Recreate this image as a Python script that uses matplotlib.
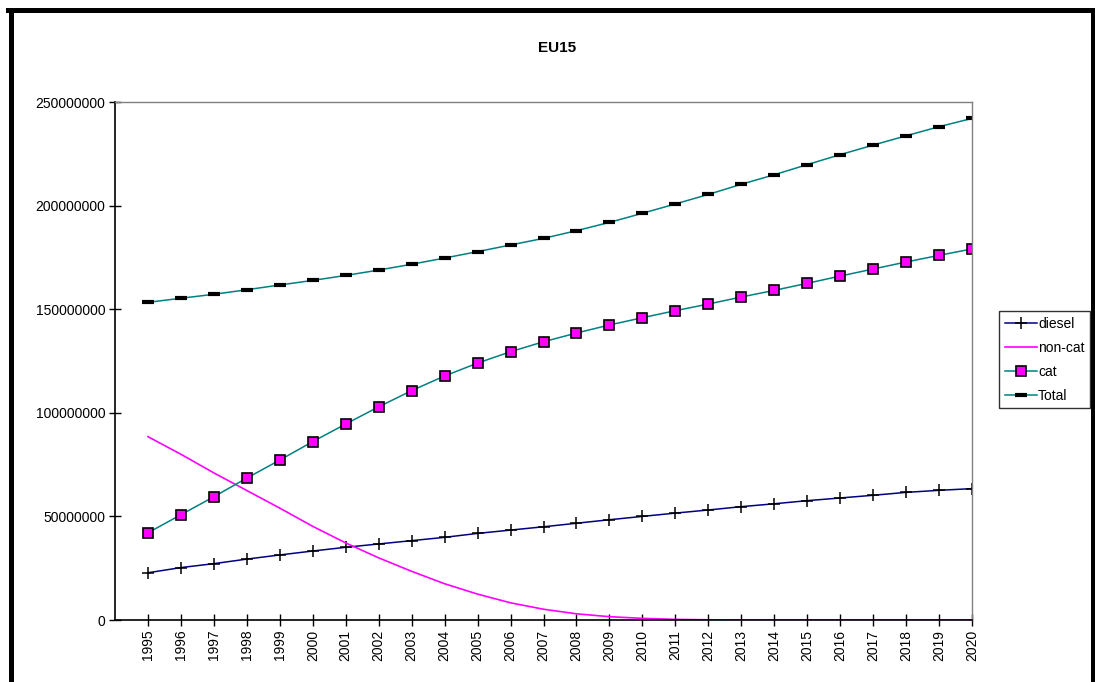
import numpy as np
import matplotlib.pyplot as plt
from matplotlib.lines import Line2D

plt.rcParams['font.family'] = ['Liberation Sans', 'DejaVu Sans']

years = [str(y) for y in range(1995, 2021)]

# vehicle counts per year
diesel = [22.8, 25.3, 27.2, 29.4, 31.4, 33.3, 35.1, 36.7, 38.3, 39.9,
          41.8, 43.4, 45.0, 46.7, 48.4, 50.0, 51.6, 53.1, 54.7, 56.1,
          57.6, 58.9, 60.2, 61.6, 62.6, 63.4]
non_cat = [88.5, 80.0, 71.0, 62.5, 54.0, 45.2, 37.2, 30.0, 23.5, 17.5,
           12.5, 8.3, 5.2, 3.0, 1.6, 0.8, 0.3, 0.1, 0.0, 0.0,
           0.0, 0.0, 0.0, 0.0, 0.0, 0.0]
cat = [42.1, 50.8, 59.5, 68.5, 77.2, 86.1, 94.6, 102.9, 110.7, 117.8,
       124.0, 129.5, 134.3, 138.5, 142.4, 145.9, 149.3, 152.5, 155.9, 159.1,
       162.5, 166.0, 169.4, 172.8, 176.0, 179.1]
total = [153.3, 155.3, 157.2, 159.4, 161.7, 163.9, 166.3, 168.9, 171.7, 174.7,
         177.8, 181.0, 184.2, 187.9, 191.9, 196.3, 200.8, 205.4, 210.3, 214.9,
         219.8, 224.6, 229.2, 233.7, 238.1, 242.1]

scale = 1e6
x = np.arange(len(years))

fig = plt.figure(figsize=(10.95, 6.82), dpi=100)
ax = fig.add_axes([0.105, 0.0909, 0.7827, 0.7595])

ax.plot(x, np.array(diesel) * scale, color='#000080', lw=1.1,
        marker='+', ms=8, mec='black', mew=1.1, label='diesel')
ax.plot(x, np.array(non_cat) * scale, color='#FF00FF', lw=1.2, label='non-cat')
ax.plot(x, np.array(cat) * scale, color='#008080', lw=1.1,
        marker='s', ms=6.5, mfc='#FF00FF', mec='black', mew=1.2, label='cat')
ax.plot(x, np.array(total) * scale, color='#008080', lw=1.1,
        marker='_', ms=9, mec='black', mew=3, label='Total')

ax.set_xlim(-1, len(years) - 1)
ax.set_ylim(0, 250000000)
ax.set_yticks(np.arange(0, 250000001, 50000000))
ax.set_yticklabels([str(v) for v in range(0, 250000001, 50000000)], fontsize=10)
ax.set_xticks(x)
ax.set_xticklabels(years, rotation=90, fontsize=10)
ax.tick_params(direction='inout', length=8, width=1, pad=3)

for side in ('top', 'right'):
    ax.spines[side].set_color('#808080')
    ax.spines[side].set_linewidth(1)
for side in ('left', 'bottom'):
    ax.spines[side].set_color('black')
    ax.spines[side].set_linewidth(1.2)

fig.text(0.5087, 0.9296, 'EU15', ha='center', va='center',
         fontsize=11, fontweight='bold')

leg = fig.legend(loc='upper left', bbox_to_anchor=(999 / 1095, 1 - 311 / 682),
                 fontsize=10, frameon=True, fancybox=False, borderpad=0.4,
                 handlelength=2.3, handletextpad=0.1, labelspacing=0.72,
                 borderaxespad=0)
leg.get_frame().set_edgecolor('black')
leg.get_frame().set_linewidth(1)

# outer chart frame
lw = 3.6
fig.add_artist(Line2D([10.5 / 1095, 10.5 / 1095], [0, 1 - 10 / 682],
                      transform=fig.transFigure, color='black', lw=lw))
fig.add_artist(Line2D([8 / 1095, 1093 / 1095], [1 - 10 / 682, 1 - 10 / 682],
                      transform=fig.transFigure, color='black', lw=lw))
fig.add_artist(Line2D([1092.5 / 1095, 1092.5 / 1095], [0, 1 - 10 / 682],
                      transform=fig.transFigure, color='black', lw=lw))

fig.savefig('out.png', dpi=100)
